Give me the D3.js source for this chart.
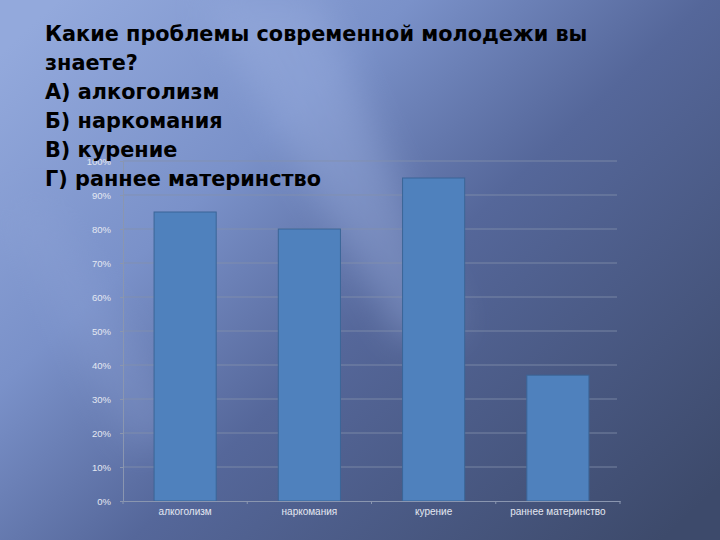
<!DOCTYPE html>
<html><head><meta charset="utf-8">
<script src="https://cdn.jsdelivr.net/npm/d3@7"></script>
<style>html,body{margin:0;padding:0;width:720px;height:540px;overflow:hidden;}</style>
</head><body>
<svg id="c" width="720" height="540"></svg>
<script>
const titleLines = ["Какие проблемы современной молодежи вы", "знаете?", "А) алкоголизм", "Б) наркомания", "В) курение", "Г) раннее материнство"];
const categories = ["алкоголизм", "наркомания", "курение", "раннее материнство"];
const values = [0.85, 0.80, 0.95, 0.37];
const yTicks = [0, 0.1, 0.2, 0.3, 0.4, 0.5, 0.6, 0.7, 0.8, 0.9, 1.0];

const svg = d3.select("#c");
const defs = svg.append("defs");
const g1 = defs.append("linearGradient").attr("id","bg").attr("x1","0").attr("y1","0.1").attr("x2","1").attr("y2","0.9");
g1.append("stop").attr("offset","0").attr("stop-color","#93a9dc");
g1.append("stop").attr("offset","0.3").attr("stop-color","#7a91c9");
g1.append("stop").attr("offset","0.55").attr("stop-color","#55679a");
g1.append("stop").attr("offset","1").attr("stop-color","#3d4a6b");
svg.append("rect").attr("width",720).attr("height",540).attr("fill","url(#bg)");
const f = defs.append("filter").attr("id","blur").attr("x","-50%").attr("y","-50%").attr("width","200%").attr("height","200%");
f.append("feGaussianBlur").attr("stdDeviation",18);
svg.append("path").attr("d","M200,0 L320,0 L460,330 L400,340 Z").attr("fill","#9fb2e2").attr("opacity",0.4).attr("filter","url(#blur)");
svg.append("path").attr("d","M0,210 L50,200 L190,430 L130,450 Z").attr("fill","#8ea3d6").attr("opacity",0.3).attr("filter","url(#blur)");

const L = 123, R = 620, T = 161, B = 501;
const x = d3.scaleBand().domain(categories).range([L, R]).paddingInner(0.5).paddingOuter(0.25);
const y = d3.scaleLinear().domain([0, 1]).range([B, T]);

svg.append("g").selectAll("line").data(yTicks.slice(1)).join("line")
  .attr("x1", L).attr("x2", R - 3).attr("y1", d => y(d)).attr("y2", d => y(d))
  .attr("stroke", "#8390ab").attr("stroke-width", 1).attr("opacity", 0.8);

const yAxis = svg.append("g").attr("transform", `translate(${L},0)`)
  .call(d3.axisLeft(y).tickValues(yTicks).tickFormat(d3.format(".0%")).tickSize(3).tickPadding(9));
yAxis.select(".domain").attr("stroke", "#8a96b0");
yAxis.selectAll(".tick line").attr("stroke", "#8a96b0");
yAxis.selectAll("text").attr("fill", "#e4e8f2").attr("font-family", "Liberation Sans, Arial, sans-serif").attr("font-size", 9.5);

svg.append("g").selectAll("rect").data(values).join("rect")
  .attr("x", (d, i) => x(categories[i])).attr("width", x.bandwidth())
  .attr("y", d => y(d)).attr("height", d => B - y(d))
  .attr("fill", "#4f81bd").attr("stroke", "#3b6597").attr("stroke-width", 1);

const band = (R - L) / categories.length;
const xAxis = svg.append("g").attr("transform", `translate(0,${B})`)
  .call(d3.axisBottom(x).tickSize(0).tickPadding(7));
xAxis.select(".domain").attr("stroke", "#8a96b0");
xAxis.selectAll("text").attr("fill", "#e4e8f2").attr("font-family", "Liberation Sans, Arial, sans-serif").attr("font-size", 10);
svg.append("g").selectAll("line").data(d3.range(categories.length + 1)).join("line")
  .attr("x1", i => L + i * band).attr("x2", i => L + i * band)
  .attr("y1", B).attr("y2", B + 3).attr("stroke", "#8a96b0");

svg.append("g").selectAll("text").data(titleLines).join("text")
  .attr("x", 45).attr("y", (d, i) => 41 + i * 29)
  .attr("font-family", "DejaVu Sans, Verdana, sans-serif").attr("font-weight", "bold")
  .attr("font-size", 20.8).attr("fill", "#000").text(d => d);
</script>
</body></html>
